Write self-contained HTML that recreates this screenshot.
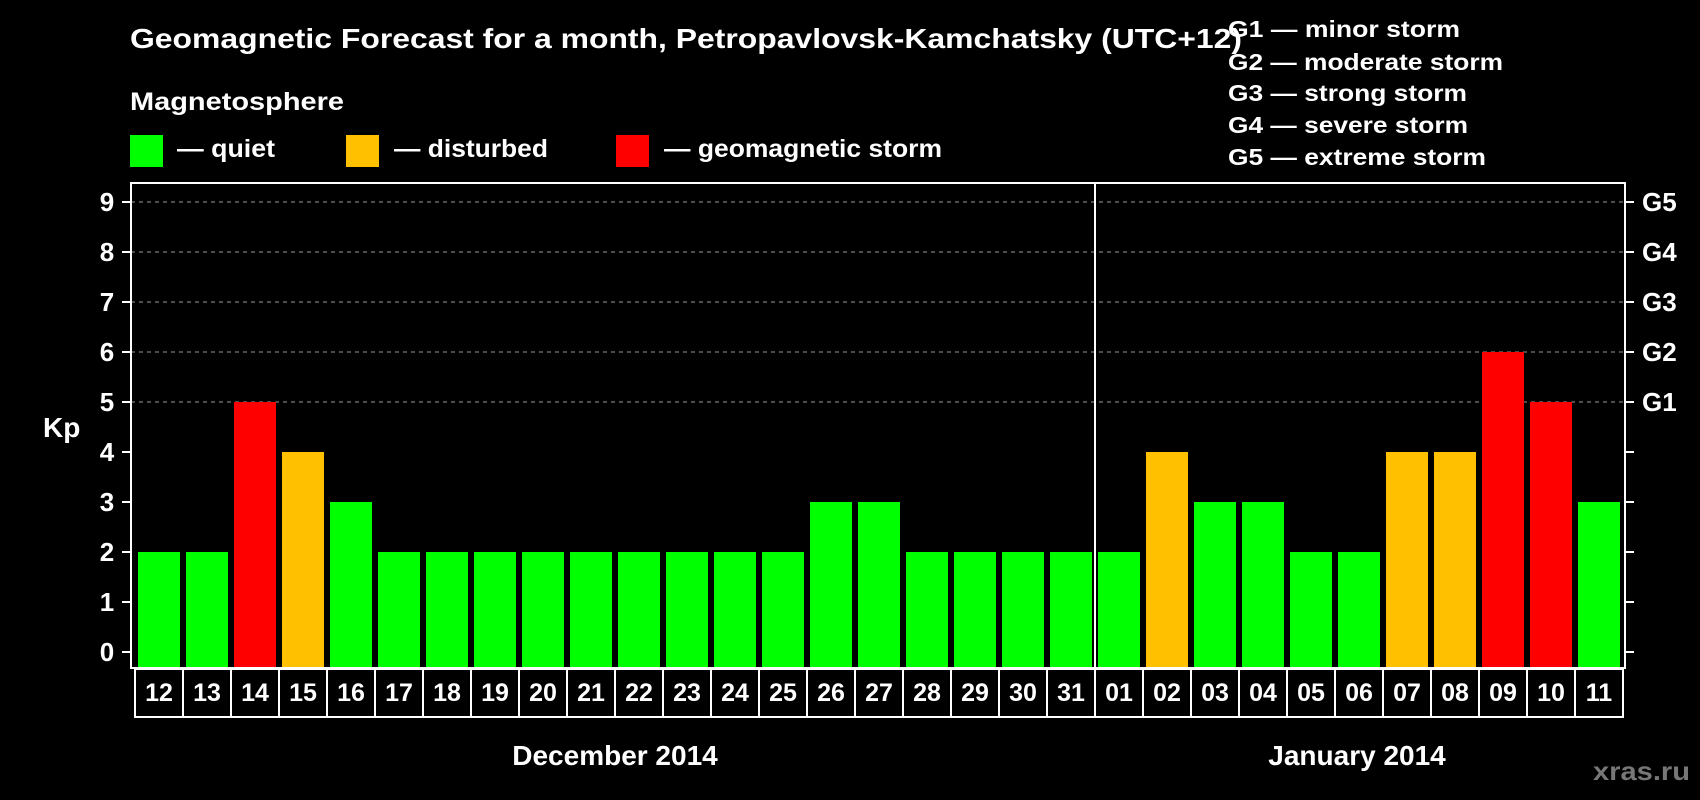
<!DOCTYPE html>
<html><head><meta charset="utf-8"><style>
html,body{margin:0;padding:0;background:#000;}
svg{display:block;font-family:"Liberation Sans",sans-serif;font-weight:bold;}
</style></head><body>
<svg id="chart" width="1700" height="800" viewBox="0 0 1700 800">
<rect x="0" y="0" width="1700" height="800" fill="#000"/>
<text x="130" y="48" font-size="28" fill="#fff" textLength="1112" lengthAdjust="spacingAndGlyphs">Geomagnetic Forecast for a month, Petropavlovsk-Kamchatsky (UTC+12)</text>
<text x="130" y="110" font-size="25" fill="#fff" textLength="214" lengthAdjust="spacingAndGlyphs">Magnetosphere</text>
<g>
<rect x="130" y="135" width="33" height="32" fill="#00ff00"/>
<text x="177" y="157" font-size="25" fill="#fff" textLength="98" lengthAdjust="spacingAndGlyphs">— quiet</text>
</g>
<g>
<rect x="346" y="135" width="33" height="32" fill="#ffc000"/>
<text x="394" y="157" font-size="25" fill="#fff" textLength="154" lengthAdjust="spacingAndGlyphs">— disturbed</text>
</g>
<g>
<rect x="616" y="135" width="33" height="32" fill="#ff0000"/>
<text x="664" y="157" font-size="25" fill="#fff" textLength="278" lengthAdjust="spacingAndGlyphs">— geomagnetic storm</text>
</g>
<g font-size="23" fill="#fff">
<text x="1228" y="37" textLength="232" lengthAdjust="spacingAndGlyphs">G1 — minor storm</text>
<text x="1228" y="70" textLength="275" lengthAdjust="spacingAndGlyphs">G2 — moderate storm</text>
<text x="1228" y="101" textLength="239" lengthAdjust="spacingAndGlyphs">G3 — strong storm</text>
<text x="1228" y="133" textLength="240" lengthAdjust="spacingAndGlyphs">G4 — severe storm</text>
<text x="1228" y="165" textLength="258" lengthAdjust="spacingAndGlyphs">G5 — extreme storm</text>
</g>
<text x="43" y="437" font-size="28" fill="#fff">Kp</text>
<g id="grid"></g><g id="bars"></g><g id="axes"></g>
<text x="615" y="765" font-size="28" fill="#fff" text-anchor="middle">December 2014</text>
<text x="1357" y="765" font-size="28" fill="#fff" text-anchor="middle">January 2014</text>
<text x="1593" y="780" font-size="26" fill="#777" textLength="97" lengthAdjust="spacingAndGlyphs">xras.ru</text>
</svg>
<script>
const days = ["12","13","14","15","16","17","18","19","20","21","22","23","24","25","26","27","28","29","30","31","01","02","03","04","05","06","07","08","09","10","11"];
const kpValues = [2,2,5,4,3,2,2,2,2,2,2,2,2,2,3,3,2,2,2,2,2,4,3,3,2,2,4,4,6,5,3];
const yTicks = [0,1,2,3,4,5,6,7,8,9];
const gLabels = ["G1","G2","G3","G4","G5"];
const gLevels = [5,6,7,8,9];

const NS = "http://www.w3.org/2000/svg";
const L = 131, R = 1625, T = 183, B = 668;
const y0 = 652, unit = 50;
const step = 48, bx0 = 138, bw = 42, boxX0 = 135;
const yScale = v => y0 - v * unit;
const xScale = i => bx0 + i * step;
function mk(tag, attrs, parent) { const e = document.createElementNS(NS, tag); for (const k in attrs) e.setAttribute(k, attrs[k]); parent.appendChild(e); return e; }
function color(v) { return v >= 5 ? "#ff0000" : v >= 4 ? "#ffc000" : "#00ff00"; }

const grid = document.getElementById("grid"), bars = document.getElementById("bars"), axes = document.getElementById("axes");
gLevels.forEach((v) => {
  const ln = mk("line", {x1: L, x2: R, y1: yScale(v), y2: yScale(v), stroke: "#999", "stroke-width": 1, "stroke-dasharray": "4,4"}, grid);
  
  
});
kpValues.forEach((v, i) => {
  const r = mk("rect", {x: xScale(i), y: yScale(v), width: bw, height: B - yScale(v), fill: color(v)}, bars);
  
  
});
const fr = mk("rect", {x: L, y: T, width: R - L, height: B - T, fill: "none", stroke: "#fff", "stroke-width": 2}, axes);


const divX = boxX0 + 20 * step;
const dv = mk("line", {x1: divX, x2: divX, y1: T, y2: 717, stroke: "#fff", "stroke-width": 2}, axes);


yTicks.forEach(v => {
  const y = yScale(v);
  const t1 = mk("line", {x1: 122, x2: L, y1: y, y2: y, stroke: "#fff", "stroke-width": 2}, axes);
  
  
  const t2 = mk("line", {x1: R, x2: 1634, y1: y, y2: y, stroke: "#fff", "stroke-width": 2}, axes);
  
  
  const lb = mk("text", {x: 107, y: y + 9, "font-size": 26, fill: "#fff", "text-anchor": "middle"}, axes);
  lb.textContent = String(v);
  
  
});
gLevels.forEach((v, i) => {
  const lb = mk("text", {x: 1642, y: yScale(v) + 9, "font-size": 26, fill: "#fff"}, axes);
  lb.textContent = gLabels[i];
  
  
});
days.forEach((d, i) => {
  const bx = mk("rect", {x: boxX0 + i * step, y: 669, width: step, height: 48, fill: "#000", stroke: "#fff", "stroke-width": 2}, axes);
  
  
  const tx = mk("text", {x: boxX0 + i * step + step / 2, y: 701, "font-size": 25, fill: "#fff", "text-anchor": "middle"}, axes);
  tx.textContent = d;
  
  
});
</script>
</body></html>
